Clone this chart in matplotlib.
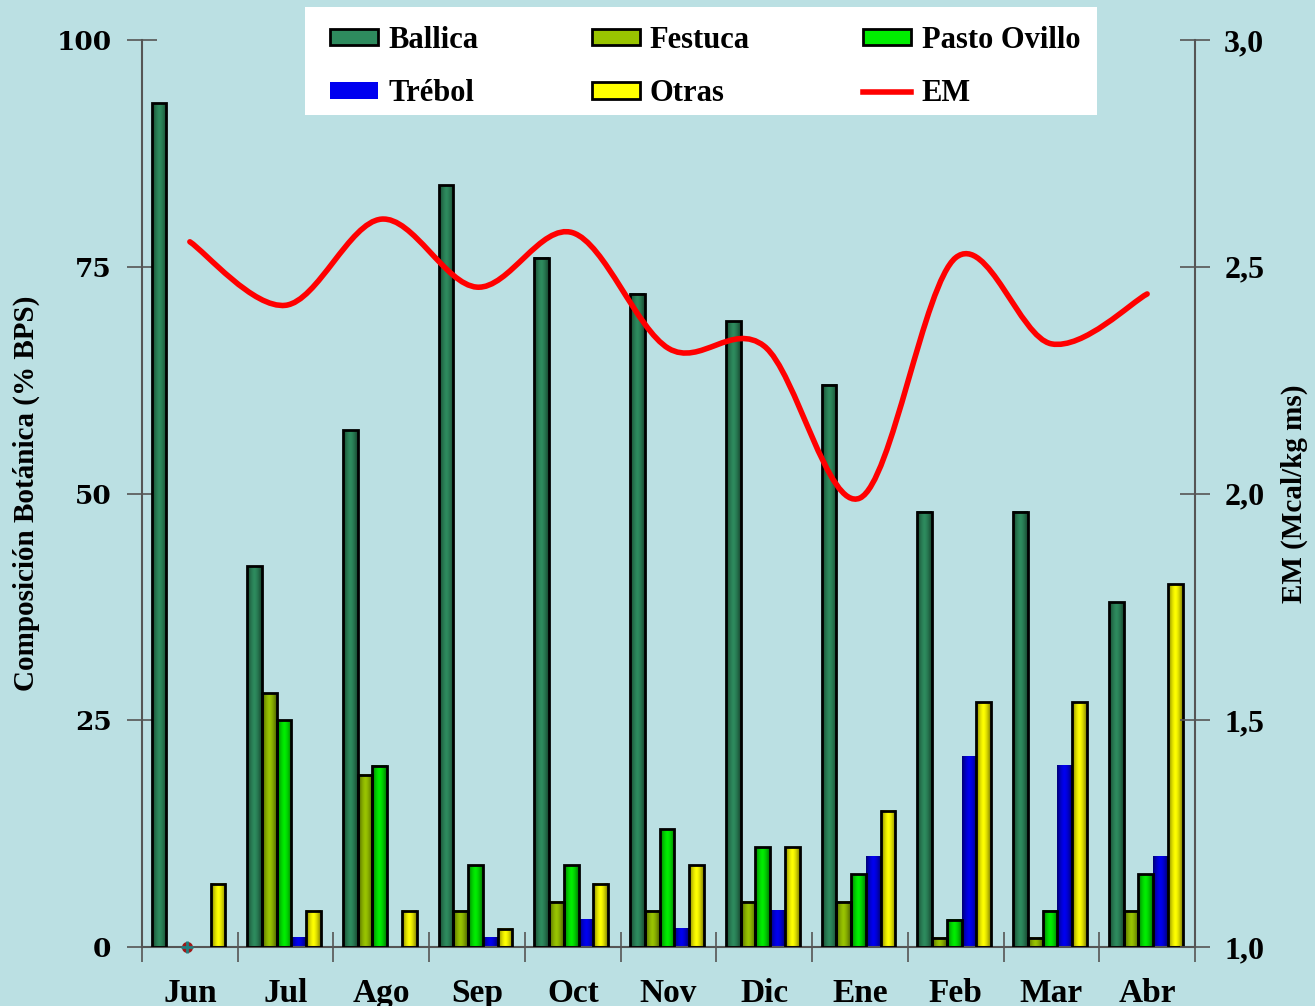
import numpy as np
import matplotlib.pyplot as plt
from matplotlib.path import Path
from matplotlib.patches import PathPatch, Patch, Rectangle
from matplotlib.lines import Line2D
from matplotlib.colors import to_rgb

months = ['Jun', 'Jul', 'Ago', 'Sep', 'Oct', 'Nov', 'Dic', 'Ene', 'Feb', 'Mar', 'Abr']
ballica = [93, 42, 57, 84, 76, 72, 69, 62, 48, 48, 38]
festuca = [0, 28, 19, 4, 5, 4, 5, 5, 1, 1, 4]
pasto = [0, 25, 20, 9, 9, 13, 11, 8, 3, 4, 8]
trebol = [0, 1, 0, 1, 3, 2, 4, 10, 21, 20, 10]
otras = [7, 4, 4, 2, 7, 9, 11, 15, 27, 27, 40]
em = [2.555, 2.415, 2.605, 2.455, 2.575, 2.32, 2.325, 1.99, 2.52, 2.33, 2.44]

series = [('Ballica', ballica, '#2E8B5E', True),
          ('Festuca', festuca, '#99C400', True),
          ('Pasto Ovillo', pasto, '#00EE00', True),
          ('Trébol', trebol, '#0000F0', False),
          ('Otras', otras, '#FFFF00', True)]

bg = '#BBE0E3'
plt.rcParams['font.family'] = ['Liberation Serif', 'DejaVu Serif']
plt.rcParams['font.weight'] = 'bold'
plt.rcParams['axes.labelweight'] = 'bold'

fig = plt.figure(figsize=(13.15, 10.06), dpi=100, facecolor=bg)
ax = fig.add_axes([142/1315, 59/1006, 1053/1315, 907/1006], facecolor=bg)

x = np.arange(len(months))
w = 0.154


def shade(c, n=32):
    # darker at both edges, light in the middle
    c = np.array(to_rgb(c))
    t = np.linspace(-1, 1, n)
    k = 1 - 0.5 * np.abs(t) ** 1.5
    return (c[None, :] * k[:, None])[None, :, :]


for i, (name, vals, col, edged) in enumerate(series):
    pos = x + (i - 2.1) * w
    for xp, v in zip(pos, vals):
        if v <= 0:
            continue
        ax.imshow(shade(col), extent=[xp - w/2, xp + w/2, 0, v],
                  aspect='auto', zorder=2, interpolation='bilinear')
    lws = [2 if (edged and v > 0) else 0 for v in vals]
    ax.bar(pos, vals, w, facecolor='none', edgecolor='black', linewidth=lws, zorder=3)

ax.set_xlim(-0.5, len(months) - 0.5)
ax.set_ylim(0, 100)
ax.set_yticks([0, 25, 50, 75, 100])
ax.set_xticks(x)
ax.set_xticklabels(months)
ax.set_xticks(np.arange(len(months) + 1) - 0.5, minor=True)
ax.tick_params(axis='x', which='major', length=0, pad=22, labelsize=24)
ax.tick_params(axis='x', which='minor', direction='inout', length=22, width=1.2, color='#555555')
ax.tick_params(axis='y', direction='inout', length=22, width=1.2, color='#555555', pad=11)
for lab in ax.get_yticklabels():
    lab.set_family('DejaVu Serif')
    lab.set_fontsize(19)
for s in ['top', 'right']:
    ax.spines[s].set_visible(False)
for s in ['left', 'bottom']:
    ax.spines[s].set_color('#555555')
    ax.spines[s].set_linewidth(1.5)
ax.set_ylabel('Composición Botánica (% BPS)', fontsize=21, labelpad=12)

# stray marker at Jun
ax.plot([-0.03], [0], 'o', color='#A01818', markersize=7, zorder=4, clip_on=False)
ax.plot([-0.03], [0], '+', color='#1F7F7F', markersize=8, mew=2, zorder=5, clip_on=False)

ax2 = ax.twinx()
ax2.set_ylim(1.0, 3.0)
ax2.set_yticks([1.0, 1.5, 2.0, 2.5, 3.0])
ax2.set_yticklabels(['1,0', '1,5', '2,0', '2,5', '3,0'])
ax2.tick_params(axis='y', direction='inout', length=22, width=1.2, color='#555555',
                labelsize=23, pad=10)
for s in ['top', 'left', 'bottom']:
    ax2.spines[s].set_visible(False)
ax2.spines['right'].set_color('#555555')
ax2.spines['right'].set_linewidth(1.5)
ax2.set_ylabel('EM (Mcal/kg ms)', fontsize=21, labelpad=12)

# smoothed EM line (Catmull-Rom as bezier segments)
pts = np.column_stack([x, em])
verts = [pts[0]]
codes = [Path.MOVETO]
for i in range(len(pts) - 1):
    p0 = pts[i - 1] if i > 0 else pts[i]
    p1 = pts[i]
    p2 = pts[i + 1]
    p3 = pts[i + 2] if i + 2 < len(pts) else pts[i + 1]
    verts += [p1 + (p2 - p0) / 6, p2 - (p3 - p1) / 6, p2]
    codes += [Path.CURVE4] * 3
ax2.add_patch(PathPatch(Path(verts, codes), facecolor='none', edgecolor='#FF0000',
                        linewidth=4, capstyle='round', zorder=5))

# legend: white box plus frameless legend inside it
fig.patches.append(Rectangle((305/1315, 891/1006), 792/1315, 108/1006,
                             transform=fig.transFigure, facecolor='white',
                             edgecolor='none', zorder=10))
handles = [Patch(facecolor='#2E8B5E', edgecolor='black', lw=2),
           Patch(facecolor='#0000F0', edgecolor='none'),
           Patch(facecolor='#99C400', edgecolor='black', lw=2),
           Patch(facecolor='#FFFF00', edgecolor='black', lw=2),
           Patch(facecolor='#00EE00', edgecolor='black', lw=2),
           Line2D([], [], color='#FF0000', lw=4)]
labels = ['Ballica', 'Trébol', 'Festuca', 'Otras', 'Pasto Ovillo', 'EM']
leg = fig.legend(handles, labels, ncol=3, loc='upper left', mode='expand',
                 bbox_to_anchor=(330/1315, 878/1006, 750/1315, 102/1006),
                 frameon=False, fontsize=22, handlelength=1.57, handleheight=0.45,
                 handletextpad=0.33, borderaxespad=0, borderpad=0,
                 labelspacing=0.8, columnspacing=1.0)
leg.set_zorder(11)

fig.savefig('out.png', dpi=100, facecolor=bg)
